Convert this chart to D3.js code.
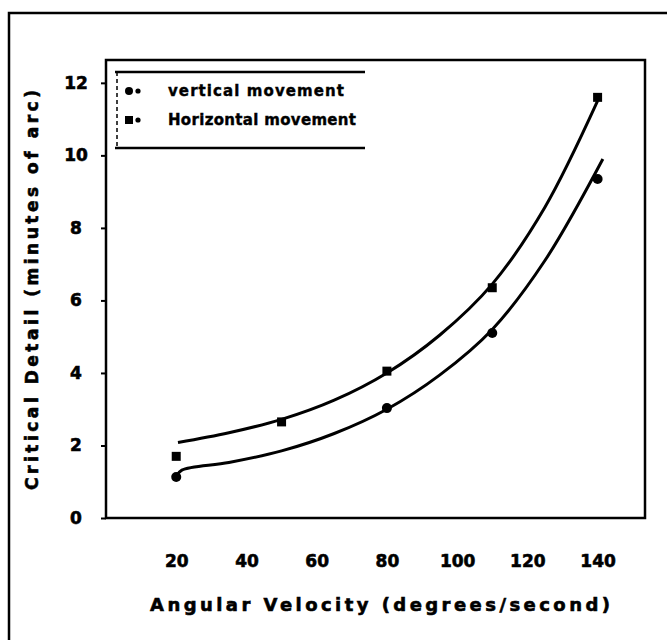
<!DOCTYPE html>
<html><head><meta charset="utf-8">
<script src="https://cdn.jsdelivr.net/npm/d3@7"></script>
<style>html,body{margin:0;padding:0;background:#fff;} svg{display:block;}</style>
</head><body><svg id="chart" width="667" height="640"></svg>
<script>
// ---- data ----
const xTicks = [20, 40, 60, 80, 100, 120, 140];
const yTicks = [0, 2, 4, 6, 8, 10, 12];
const horizX = [20, 50, 80, 110, 140];
const horizY = [1.7, 2.65, 4.05, 6.35, 11.6];
const vertX = [20, 80, 110, 140];
const vertY = [1.13, 3.03, 5.1, 9.35];
const horizCurveX = [20.5, 35, 50, 65, 80, 95, 110, 125, 140];
const horizCurveY = [2.08, 2.35, 2.72, 3.25, 4.0, 5.04, 6.45, 8.57, 11.5];
const vertCurveX = [20, 21.6, 35, 50, 65, 80, 95, 110, 125, 141.5];
const vertCurveY = [1.15, 1.32, 1.53, 1.85, 2.33, 3.0, 3.94, 5.2, 7.1, 9.9];
const legendLabels = ["vertical movement", "Horizontal movement"];
const xTitle = "Angular Velocity (degrees/second)";
const yTitle = "Critical Detail (minutes of arc)";

// ---- layout ----
const svg = d3.select("#chart");
const L = 106, R = 645, T = 60, B = 518;
const x = d3.scaleLinear().domain([0, 153.5]).range([L, R]);
const y = d3.scaleLinear().domain([0, 12.63]).range([B, T]);
const FONT = "'DejaVu Sans', sans-serif";
function heavy(sel, w) { return sel.attr("stroke", "#000").attr("stroke-width", w).attr("paint-order", "stroke"); }

// outer frame
svg.append("rect").attr("x", 9).attr("y", 13).attr("width", 720).attr("height", 700)
  .attr("fill", "none").attr("stroke", "#000").attr("stroke-width", 2.5);

// plot frame
svg.append("rect").attr("x", L).attr("y", T).attr("width", R - L).attr("height", B - T)
  .attr("fill", "none").attr("stroke", "#000").attr("stroke-width", 2.5);

// y axis
const gy = svg.append("g").attr("transform", `translate(${L},0)`)
  .call(d3.axisLeft(y).tickValues(yTicks).tickSize(5).tickFormat(d3.format("d")));
gy.select(".domain").remove();
gy.selectAll(".tick line").attr("stroke", "#000").attr("stroke-width", 2);
heavy(gy.selectAll(".tick text").attr("x", -30).attr("text-anchor", "middle")
  .attr("font-family", FONT).attr("font-weight", "bold").attr("font-size", 17).attr("fill", "#000"), 0.6);

// x axis
const gx = svg.append("g").attr("transform", `translate(0,${B})`)
  .call(d3.axisBottom(x).tickValues(xTicks).tickSize(0).tickFormat(d3.format("d")));
gx.select(".domain").remove();
heavy(gx.selectAll(".tick text").attr("y", 43).attr("dy", "0.35em")
  .attr("font-family", FONT).attr("font-weight", "bold").attr("font-size", 17).attr("fill", "#000"), 0.6);

// titles
heavy(svg.append("text").attr("x", 380).attr("y", 611).attr("text-anchor", "middle")
  .attr("font-family", FONT).attr("font-weight", "bold").attr("font-size", 18)
  .attr("textLength", 460).attr("lengthAdjust", "spacing").text(xTitle), 0.6);
heavy(svg.append("text").attr("transform", "translate(38,290) rotate(-90)").attr("text-anchor", "middle")
  .attr("font-family", FONT).attr("font-weight", "bold").attr("font-size", 17)
  .attr("textLength", 400).attr("lengthAdjust", "spacing").text(yTitle), 0.6);

// curves
const line = d3.line().x(d => x(d[0])).y(d => y(d[1])).curve(d3.curveCatmullRom);
svg.append("path").datum(d3.zip(horizCurveX, horizCurveY)).attr("d", line)
  .attr("fill", "none").attr("stroke", "#000").attr("stroke-width", 3);
svg.append("path").datum(d3.zip(vertCurveX, vertCurveY)).attr("d", line)
  .attr("fill", "none").attr("stroke", "#000").attr("stroke-width", 3);

// markers
svg.selectAll(".hm").data(d3.zip(horizX, horizY)).join("rect").attr("class", "hm")
  .attr("x", d => x(d[0]) - 4.5).attr("y", d => y(d[1]) - 4.5).attr("width", 9).attr("height", 9).attr("fill", "#000");
svg.selectAll(".vm").data(d3.zip(vertX, vertY)).join("circle").attr("class", "vm")
  .attr("cx", d => x(d[0])).attr("cy", d => y(d[1])).attr("r", 5).attr("fill", "#000");

// legend
const lg = svg.append("g");
lg.append("line").attr("x1", 115).attr("x2", 365).attr("y1", 72).attr("y2", 72).attr("stroke", "#000").attr("stroke-width", 2.5);
lg.append("line").attr("x1", 115).attr("x2", 365).attr("y1", 148).attr("y2", 148).attr("stroke", "#000").attr("stroke-width", 2.5);
lg.append("line").attr("x1", 117).attr("x2", 117).attr("y1", 72).attr("y2", 148).attr("stroke", "#000").attr("stroke-width", 1.5).attr("stroke-dasharray", "4,3");
const rows = [91, 120];
legendLabels.forEach((t, i) => {
  const cy = rows[i];
  if (i === 0) lg.append("circle").attr("cx", 129).attr("cy", cy).attr("r", 4).attr("fill", "#000");
  else lg.append("rect").attr("x", 125).attr("y", cy - 4).attr("width", 8).attr("height", 8).attr("fill", "#000");
  lg.append("circle").attr("cx", 138).attr("cy", cy).attr("r", 2.6).attr("fill", "#000");
  heavy(lg.append("text").attr("x", 168).attr("y", cy).attr("dy", "0.35em")
    .attr("font-family", FONT).attr("font-weight", "bold").attr("font-size", 15)
    .attr("textLength", i === 0 ? 176 : 188).attr("lengthAdjust", "spacing").text(t), 0.4);
});
</script></body></html>
